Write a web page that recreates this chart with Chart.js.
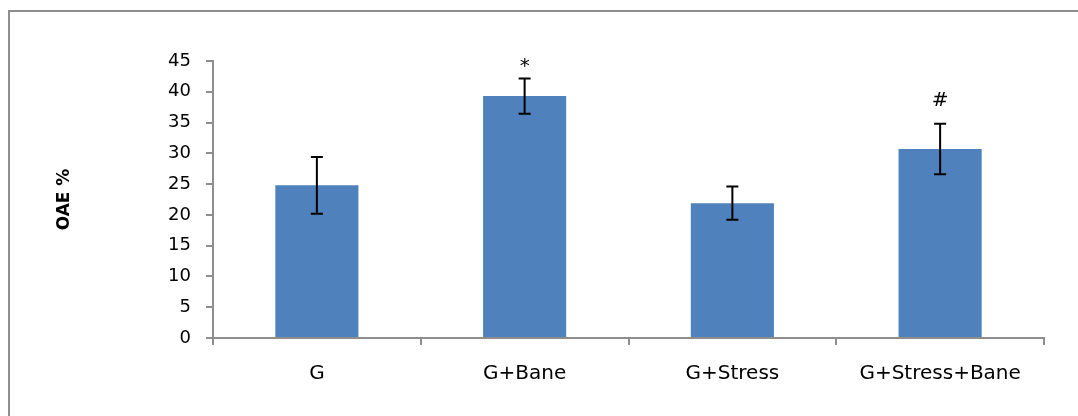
<!DOCTYPE html>
<html>
<head>
<meta charset="utf-8">
<script src="https://cdn.jsdelivr.net/npm/chart.js@4.4.0/dist/chart.umd.min.js"></script>
<style>
  body { margin: 0; background: #fff; overflow: hidden; }
  #wrap { position: relative; width: 1078px; height: 416px; }
  #frame {
    position: absolute; left: 8px; top: 10px; width: 1200px; height: 600px;
    border-top: 2px solid #8e8e8e; border-left: 2px solid #8e8e8e;
    pointer-events: none;
  }
</style>
</head>
<body>
<div id="wrap">
  <canvas id="chart" width="1078" height="416"></canvas>
  <div id="frame"></div>
</div>
<script>
const groups = ['G', 'G+Bane', 'G+Stress', 'G+Stress+Bane'];
const oae = [24.8, 39.3, 21.9, 30.7];
const oaeErr = [4.6, 2.85, 2.7, 4.1];
const marks = ['', '*', '', '#'];
const yTicks = [0, 5, 10, 15, 20, 25, 30, 35, 40, 45];

const errorBars = {
  id: 'errorBars',
  afterDatasetsDraw(chart) {
    const ctx = chart.ctx;
    const y = chart.scales.y;
    const bars = chart.getDatasetMeta(0).data;
    ctx.save();
    ctx.strokeStyle = '#000';
    ctx.lineWidth = 2;
    bars.forEach((bar, i) => {
      const top = y.getPixelForValue(oae[i] + oaeErr[i]);
      const bot = y.getPixelForValue(oae[i] - oaeErr[i]);
      ctx.beginPath();
      ctx.moveTo(bar.x, top); ctx.lineTo(bar.x, bot);
      ctx.moveTo(bar.x - 6, top); ctx.lineTo(bar.x + 6, top);
      ctx.moveTo(bar.x - 6, bot); ctx.lineTo(bar.x + 6, bot);
      ctx.stroke();
      if (marks[i]) {
        ctx.fillStyle = '#000';
        ctx.font = '20px "DejaVu Sans"';
        ctx.textAlign = 'center';
        ctx.textBaseline = 'bottom';
        const gap = marks[i] === '*' ? 2 : 13;
        ctx.fillText(marks[i], bar.x, top - gap);
      }
    });
    ctx.restore();
  }
};

new Chart(document.getElementById('chart'), {
  type: 'bar',
  data: {
    labels: groups,
    datasets: [{
      data: oae,
      backgroundColor: '#4f81bd',
      categoryPercentage: 1,
      barPercentage: 0.4
    }]
  },
  options: {
    responsive: false,
    animation: false,
    layout: { padding: { top: 61, right: 34, left: 54, bottom: 0 } },
    plugins: { legend: { display: false }, tooltip: { enabled: false } },
    scales: {
      x: {
        afterFit: s => { s.height = 78; },
        grid: { drawOnChartArea: false, drawTicks: true, tickLength: 7, color: '#8e8e8e', lineWidth: 2 },
        border: { display: true, color: '#8e8e8e', width: 2 },
        ticks: { color: '#000', padding: 17, font: { family: 'DejaVu Sans', size: 20 } }
      },
      y: {
        min: 0,
        max: 45,
        afterFit: s => { s.width = 159; },
        afterBuildTicks: s => { s.ticks = yTicks.map(v => ({ value: v })); },
        grid: { drawOnChartArea: false, drawTicks: true, tickLength: 7, color: '#8e8e8e', lineWidth: 2 },
        border: { display: true, color: '#8e8e8e', width: 2 },
        ticks: { color: '#000', padding: 15, font: { family: 'DejaVu Sans', size: 18 } },
        title: {
          display: true,
          text: 'OAE %',
          color: '#000',
          padding: 0,
          font: { family: 'DejaVu Sans', size: 17, weight: 'bold' }
        }
      }
    }
  },
  plugins: [errorBars]
});
</script>
</body>
</html>
